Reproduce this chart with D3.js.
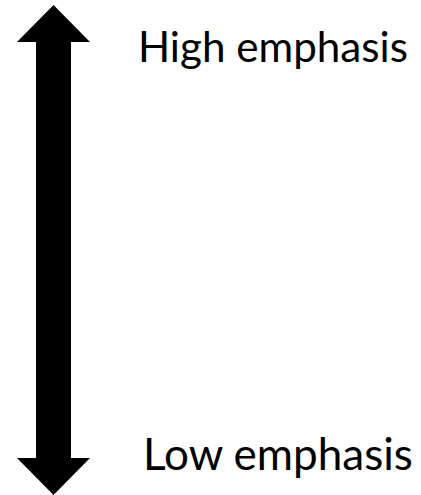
<!DOCTYPE html>
<html>
<head>
<meta charset="utf-8">
<script src="https://cdn.jsdelivr.net/npm/d3@7"></script>
<style>
  body { margin: 0; background: #fff; }
</style>
</head>
<body>
<div id="chart"></div>
<script>
// emphasis levels and their labels
var levels = [0, 1];
var labels = ["Low emphasis", "High emphasis"];

var width = 421, height = 495;

var svg = d3.select("#chart")
  .append("svg")
    .attr("width", width)
    .attr("height", height);

// y scale for the arrow tips and one for the label baselines
var y = d3.scaleLinear().domain([0, 1]).range([495, 5]);
var yLabel = d3.scaleLinear().domain([0, 1]).range([470, 62]);

var cx = 53.5, shaftW = 35, headW = 73, headH = 37;

// double headed arrow
var tipTop = y(d3.max(levels)), tipBot = y(d3.min(levels));
var pts = [
  [cx, tipTop],
  [cx + headW / 2, tipTop + headH],
  [cx + shaftW / 2, tipTop + headH],
  [cx + shaftW / 2, tipBot - headH],
  [cx + headW / 2, tipBot - headH],
  [cx, tipBot],
  [cx - headW / 2, tipBot - headH],
  [cx - shaftW / 2, tipBot - headH],
  [cx - shaftW / 2, tipTop + headH],
  [cx - headW / 2, tipTop + headH]
];
svg.append("path")
  .attr("d", d3.line()(pts) + "Z")
  .style("fill", "#000");

// labels
var lx = [143, 138];
var lw = [270, 270];
svg.selectAll("text.lbl")
  .data(levels)
  .enter()
  .append("text")
    .attr("class", "lbl")
    .attr("x", function(d, i) { return lx[i]; })
    .attr("y", function(d) { return yLabel(d); })
    .style("font-family", "Lato, 'Open Sans', sans-serif")
    .style("font-size", "36px")
    .style("fill", "#000")
    .text(function(d, i) { return labels[i]; })
    .each(function(d, i) {
      var w = this.getComputedTextLength();
      var fs = 36 * lw[i] / w;
      d3.select(this).style("font-size", fs + "px");
    });
</script>
</body>
</html>
